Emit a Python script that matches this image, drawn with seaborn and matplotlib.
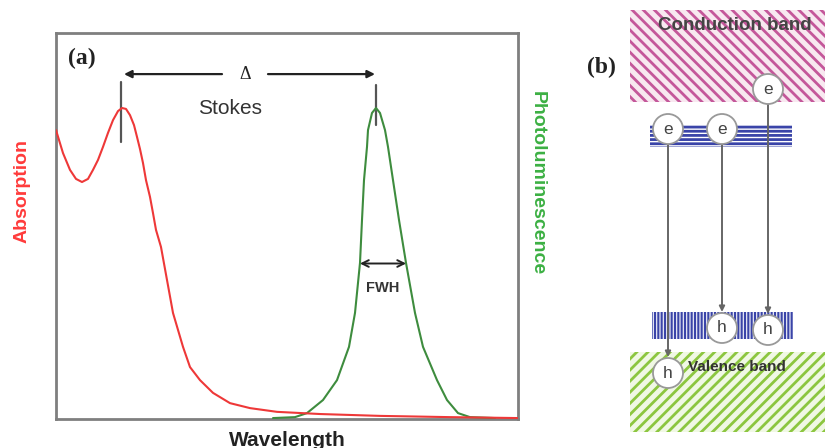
import numpy as np
import pandas as pd
import matplotlib
matplotlib.use("Agg")
import matplotlib.pyplot as plt
import seaborn as sns
from matplotlib.patches import Rectangle, Circle


#==============================================================
# 1. Data (wavelength in a.u., intensity normalised)
#==============================================================

abs_wl = [0, 7, 14, 20, 26, 32, 37, 42, 47, 52, 57, 62, 66, 70, 74, 78, 81, 84, 87,
          90, 94, 97, 100, 105, 111, 117, 127, 134, 144, 157, 174, 194, 221, 264,
          324, 394, 462]
abs_int = [0.929, 0.855, 0.801, 0.772, 0.762, 0.772, 0.801, 0.833, 0.875, 0.920,
           0.961, 0.990, 1.0, 0.997, 0.977, 0.945, 0.907, 0.868, 0.823, 0.768,
           0.714, 0.662, 0.608, 0.553, 0.447, 0.341, 0.232, 0.167, 0.125, 0.084,
           0.051, 0.035, 0.023, 0.016, 0.010, 0.006, 0.003]

pl_wl = [217, 239, 251, 267, 281, 293, 299, 304, 306, 308, 311, 312, 316, 320,
         324, 329, 332, 337, 343, 350, 359, 367, 381, 391, 402, 414, 439]
pl_int = [0.003, 0.006, 0.019, 0.061, 0.125, 0.232, 0.341, 0.502, 0.640, 0.768,
          0.875, 0.929, 0.984, 1.0, 0.984, 0.929, 0.875, 0.768, 0.640, 0.502,
          0.341, 0.232, 0.125, 0.061, 0.019, 0.006, 0.003]

# panel (b) energy diagram: electron / hole positions (pixel units of the figure)
electrons = [(668, 129), (722, 129), (768, 89)]
holes = [(668, 373), (722, 328), (768, 330)]

RED = "#ee3838"
GREEN = "#3e8c3e"

#==============================================================
# 2. Figure setup
#==============================================================

sns.set_style("white")
plt.rcParams["font.family"] = ["Liberation Sans", "DejaVu Sans"]
plt.rcParams["hatch.linewidth"] = 2.0

W, H = 825, 448
fig = plt.figure(figsize=(W / 100, H / 100), dpi=100)

ax = fig.add_axes([56 / W, (H - 419) / H, 462 / W, 386 / H])
ax.set_xlim(0, 462)
ax.set_ylim(0, 386 / 311)
for sp in ax.spines.values():
    sp.set_color("#7f7f7f")
    sp.set_linewidth(2)
ax.set_xticks([])
ax.set_yticks([])

absorp = pd.DataFrame({"wl": abs_wl, "I": abs_int})
pl = pd.DataFrame({"wl": pl_wl, "I": pl_int})
sns.lineplot(data=pl, x="wl", y="I", ax=ax, color=GREEN, lw=1.5, zorder=3,
             solid_joinstyle="round", solid_capstyle="round")
sns.lineplot(data=absorp, x="wl", y="I", ax=ax, color=RED, lw=1.5, zorder=4,
             solid_joinstyle="round", solid_capstyle="round")
ax.set_xlabel("")
ax.set_ylabel("")

#==============================================================
# 3. Annotations of panel (a)
#==============================================================

a_pk = absorp.loc[absorp["I"].idxmax()]
p_pk = pl.loc[pl["I"].idxmax()]
ax.plot([a_pk.wl - 1, a_pk.wl - 1], [a_pk.I - 0.11, a_pk.I + 0.085], color="#555", lw=1.6)
ax.plot([p_pk.wl, p_pk.wl], [p_pk.I - 0.055, p_pk.I + 0.075], color="#555", lw=1.6)

y_st = 1.109
mid = (a_pk.wl + p_pk.wl) / 2 - 7
arrow_kw = dict(arrowstyle="-|>", color="#222", lw=1.6, mutation_scale=11,
                shrinkA=0, shrinkB=0)
ax.annotate("", xy=(a_pk.wl + 2, y_st), xytext=(mid - 20, y_st), arrowprops=arrow_kw)
ax.annotate("", xy=(p_pk.wl - 1, y_st), xytext=(mid + 26, y_st), arrowprops=arrow_kw)
ax.text(mid + 3, y_st, "Δ", ha="center", va="center", fontsize=13,
        family=["Liberation Serif", "DejaVu Serif"], color="#222")
ax.text(mid - 12, 1.0, "Stokes", ha="center", va="center", fontsize=15, color="#333")

# half-maximum crossings of the PL band
pk_i = int(np.argmax(pl_int))
left_x = np.interp(0.5, pl_int[:pk_i + 1], pl_wl[:pk_i + 1])
right_x = np.interp(0.5, pl_int[pk_i:][::-1], pl_wl[pk_i:][::-1])
ax.annotate("", xy=(left_x, 0.5), xytext=(right_x, 0.5),
            arrowprops=dict(arrowstyle="<->", color="#222", lw=1.4, mutation_scale=12,
                            shrinkA=0, shrinkB=0))
ax.text((left_x + right_x) / 2, 0.42, "FWH", ha="center", va="center",
        fontsize=10.5, fontweight="bold", color="#333")

#==============================================================
# 4. Overlay in figure pixels: labels and panel (b)
#==============================================================

ov = fig.add_axes([0, 0, 1, 1])
ov.set_xlim(0, W)
ov.set_ylim(H, 0)
ov.axis("off")

serif = ["Liberation Serif", "DejaVu Serif"]
ov.text(82, 58, "(a)", ha="center", va="center", fontsize=17, fontweight="bold",
        family=serif, color="#222")
ov.text(22, 191, "Absorption", rotation=90, ha="center", va="center", fontsize=14,
        fontweight="bold", color="#ff3b3b")
ov.text(537, 183, "Photoluminescence", rotation=270, ha="center", va="center",
        fontsize=14, fontweight="bold", color="#3cb043")
ov.text(287, 440, "Wavelength", ha="center", va="center", fontsize=15,
        fontweight="bold", color="#222")
ov.text(601, 67, "(b)", ha="center", va="center", fontsize=17, fontweight="bold",
        family=serif, color="#222")

# bands
cb = Rectangle((630, 10), 195, 92, facecolor="#f8e8f0", edgecolor="#c4579a",
               hatch="\\\\\\", lw=0, zorder=1)
vb = Rectangle((630, 352), 195, 80, facecolor="#f0f8e4", edgecolor="#8cc63f",
               hatch="///", lw=0, zorder=1)
trap_e = Rectangle((650, 125), 142, 22, facecolor="white", edgecolor="#3a44a8",
                   hatch="----", lw=0, zorder=1)
trap_h = Rectangle((652, 312), 141, 27, facecolor="#e8eaf6", edgecolor="#3a44a8",
                   hatch="|||||", lw=0, zorder=1)
if hasattr(trap_h, "set_hatch_linewidth"):
    trap_h.set_hatch_linewidth(1.5)
for p in (cb, vb, trap_e, trap_h):
    ov.add_patch(p)

ov.text(735, 26, "Conduction band", ha="center", va="center", fontsize=13.5,
        fontweight="bold", color="#444", zorder=2)
ov.text(688, 367, "Valence band", ha="left", va="center", fontsize=11,
        fontweight="bold", color="#333", zorder=2)

R = 15
for (ex, ey), (hx, hy) in zip(electrons, holes):
    ov.annotate("", xy=(hx, hy - R - 1), xytext=(ex, ey),
                arrowprops=dict(arrowstyle="-|>", color="#666", lw=1.4,
                                mutation_scale=8, shrinkA=0, shrinkB=0), zorder=3)
for (cx, cy), lab in [(e, "e") for e in electrons] + [(h, "h") for h in holes]:
    ov.add_patch(Circle((cx, cy), R, facecolor="white", edgecolor="#999", lw=1.3,
                        zorder=4))
    ov.text(cx, cy, lab, ha="center", va="center", fontsize=12.5, color="#444", zorder=5)

fig.savefig("out.png", dpi=100)
